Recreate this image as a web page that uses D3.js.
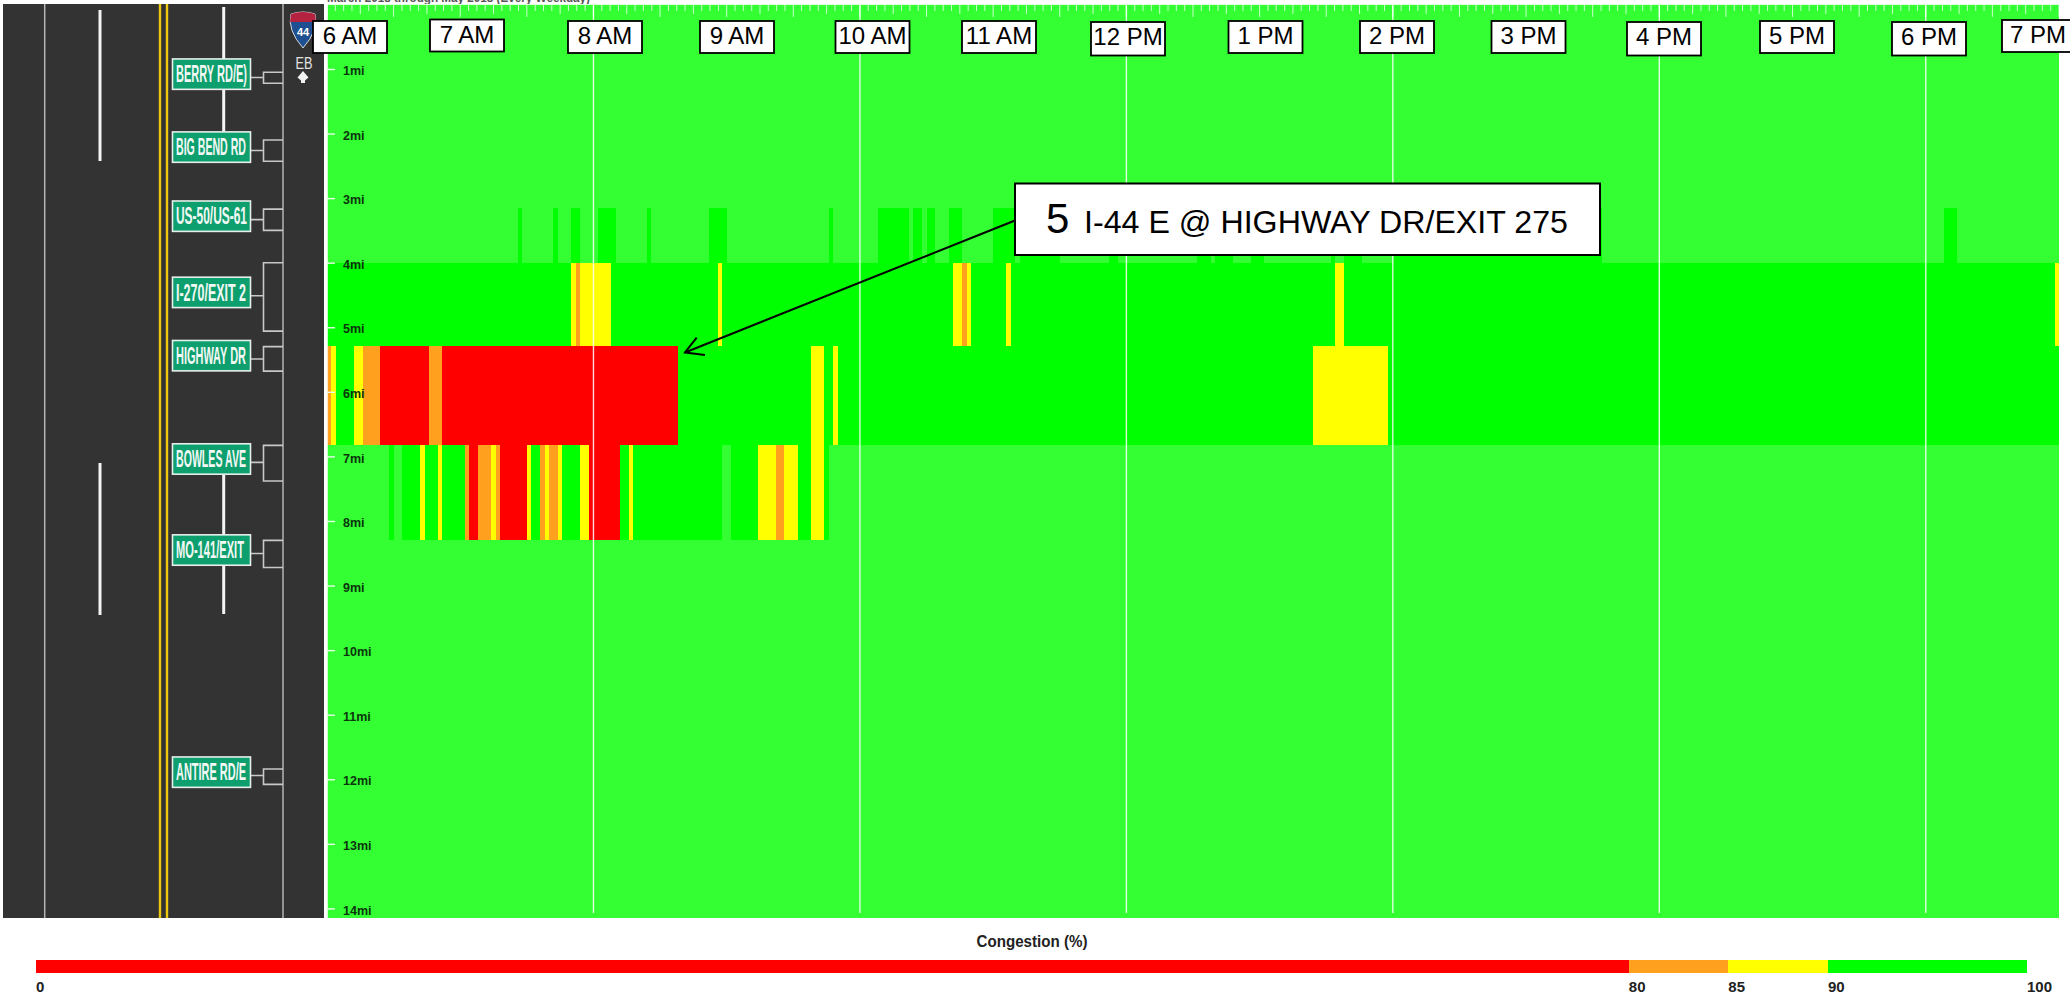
<!DOCTYPE html>
<html><head><meta charset="utf-8">
<script src="https://cdnjs.cloudflare.com/ajax/libs/d3/7.8.5/d3.min.js"></script>
<style>html,body{margin:0;padding:0;background:#fff;overflow:hidden}svg{display:block}text{font-family:"Liberation Sans",Arial,sans-serif}</style>
</head><body><svg id="c" width="2070" height="995"></svg>
<script>
// ---- data ----
const SLOTS = 390;                 // 2-minute slots, 6 AM to 7 PM
const segmentEdges = [0, 3.15, 4.0, 5.29, 6.82, 8.3, 14.15];  // miles
const segmentBase = [97, 97, 92, 92, 97, 97];                 // typical congestion %
const seg1Runs = [];
const seg2Runs = [[43,44,92],[51,52,92],[55,57,92],[61,65,92],[72,73,92],[86,90,92],[113,114,92],
  [124,131,92],[132,134,92],[135,137,92],[140,143,92],[150,155,92],[156,165,92],[176,178,92],
  [196,199,92],[200,204,92],[208,211,92],[226,227,92],[229,233,92],[240,287,92],[364,367,92]];
const seg3Runs = [[55,56,87],[56,57,82],[57,64,87],[88,89,87],[141,143,87],[143,144,82],[144,145,87],
  [153,154,87],[227,229,87],[389,390,87]];
const seg4Runs = [[0,1,82],[1,2,87],[6,8,87],[8,12,82],[12,23,70],[23,26,82],[26,79,70],
  [109,112,87],[114,115,87],[222,239,87]];
const seg5Runs = [[14,15,92],[17,21,92],[21,22,87],[22,25,92],[25,26,87],[26,31,92],[31,32,82],[32,34,70],
  [34,37,82],[37,38,87],[38,39,82],[39,45,70],[45,46,87],[46,48,92],[48,49,82],[49,50,87],[50,52,82],
  [52,53,87],[53,57,92],[57,59,87],[59,66,70],[66,68,92],[68,69,87],[69,89,92],[91,97,92],[97,101,87],
  [101,103,82],[103,106,87],[106,109,92],[109,112,87],[112,113,92]];
const seg6Runs = [];
const segmentRuns = [seg1Runs, seg2Runs, seg3Runs, seg4Runs, seg5Runs, seg6Runs];

const mileTicks = [1,2,3,4,5,6,7,8,9,10,11,12,13,14];
const hourLabels = ["6 AM","7 AM","8 AM","9 AM","10 AM","11 AM","12 PM","1 PM","2 PM","3 PM","4 PM","5 PM","6 PM","7 PM"];
const hourBoxCentre = [350,467,605,737,872.5,999,1128,1265.5,1397,1528.5,1664,1797,1929,2039];
const hourBoxTop = [21,19.5,21,21,21,21,22,21,21,21,22,21,22,20];
const gridSlots = [60,120,180,240,300,360];

const legendStops = [0,80,85,90,100];
const legendColours = ["#ff0000","#ffa01e","#ffff00","#00ff00"];
const exitNames = ["BERRY RD/E)","BIG BEND RD","US-50/US-61","I-270/EXIT 2","HIGHWAY DR","BOWLES AVE","MO-141/EXIT","ANTIRE RD/E"];
const exitSignMile = [1.08,2.21,3.28,4.46,5.44,7.04,8.45,11.89];
const exitRampFrom = [1.05,2.10,3.17,4.00,5.30,6.83,8.30,11.84];
const exitRampTo = [1.22,2.43,3.50,5.06,5.68,7.38,8.72,12.08];
const exitTextLen = [71,70,71,70,70,70,68,70];

// ---- scales ----
const svg = d3.select("#c");
const x = d3.scaleLinear().domain([0,SLOTS]).range([327,2059]);
const y = d3.scaleLinear().domain([0,14]).range([4.4,908.4]);
const colour = d3.scaleThreshold().domain([80,85,90,95]).range(["#ff0000","#ffa01e","#ffff00","#00ff00","#33ff33"]);
const lx = d3.scaleLinear().domain([0,100]).range([36,2027]);

// ---- top clipped caption ----
svg.append("text").attr("x",327).attr("y",2).attr("font-size",13).attr("font-weight","bold").attr("fill","#555")
  .attr("textLength",263).attr("lengthAdjust","spacingAndGlyphs").text("March 2018 through May 2018 (Every Weekday)");

// ---- road ----
const road = svg.append("g");
road.append("rect").attr("x",3).attr("y",4).attr("width",321).attr("height",914).attr("fill","#333");
[44.7,283].forEach(px=>road.append("line").attr("x1",px).attr("x2",px).attr("y1",4).attr("y2",918).attr("stroke","#b5b5b5").attr("stroke-width",1.5));
[160,167].forEach(px=>road.append("line").attr("x1",px).attr("x2",px).attr("y1",4).attr("y2",918).attr("stroke","#eec80f").attr("stroke-width",2.4));
[[100,10,161],[100,463,615],[223.7,7,135],[223.7,463,614]].forEach(d=>road.append("line").attr("x1",d[0]).attr("x2",d[0]).attr("y1",d[1]).attr("y2",d[2]).attr("stroke","#f4f4f4").attr("stroke-width",3));

exitNames.forEach((name,i)=>{
  const cy=y(exitSignMile[i]), g=road.append("g");
  const y0=y(exitRampFrom[i]), y1=y(exitRampTo[i]);
  g.append("path").attr("fill","none").attr("stroke","#c8c8c8").attr("stroke-width",1.6)
    .attr("d",`M283 ${y0}H263.5V${y1}H283M250 ${cy+3.4}H263.5`);
  g.append("rect").attr("x",172.5).attr("y",cy-15.2).attr("width",78).attr("height",30.4)
    .attr("fill","#0e9f6e").attr("stroke","#e6efe9").attr("stroke-width",1.6);
  g.append("text").attr("x",176).attr("y",cy+8.3).attr("font-size",23).attr("font-weight","bold").attr("fill","#f2f8f4")
    .attr("font-family","'Liberation Sans Narrow','Liberation Sans',sans-serif")
    .attr("textLength",exitTextLen[i]).attr("lengthAdjust","spacingAndGlyphs").text(name);
});

// shield and direction
const shield = svg.append("g");
shield.append("path").attr("fill","#1d4f91").attr("stroke","#d8d8d8").attr("stroke-width",1)
  .attr("d","M291 14Q303 10 315 14Q319 30 303 48Q287 30 291 14Z");
shield.append("path").attr("fill","#b5223f").attr("d","M291 14Q303 10 315 14L316 22H290Z");
shield.append("text").attr("x",303).attr("y",36).attr("text-anchor","middle").attr("font-size",11).attr("font-weight","bold").attr("fill","#fff").text("44");
svg.append("text").attr("x",304).attr("y",68.5).attr("text-anchor","middle").attr("font-size",17).attr("fill","#e2e2e2")
  .attr("textLength",17).attr("lengthAdjust","spacingAndGlyphs").text("EB");
svg.append("path").attr("fill","#f2f2f2").attr("d","M303 71L308.5 77.5L305 80.5V83H301V80.5L297.5 77.5Z");

// ---- heatmap ----
const heat = svg.append("g").attr("shape-rendering","crispEdges");
segmentRuns.forEach((runs,i)=>{
  const y0=y(segmentEdges[i]), y1=y(segmentEdges[i+1]);
  const rows=[[0,SLOTS,segmentBase[i]],...runs];
  heat.selectAll(null).data(rows).join("rect")
    .attr("x",d=>x(d[0])).attr("width",d=>x(d[1])-x(d[0]))
    .attr("y",y0).attr("height",y1-y0).attr("fill",d=>colour(d[2]));
});

// grid
svg.append("g").selectAll("line").data(gridSlots).join("line")
  .attr("x1",d=>x(d)).attr("x2",d=>x(d)).attr("y1",5).attr("y2",913)
  .attr("stroke","#fff").attr("stroke-opacity",.85).attr("stroke-width",1.4);

// top ticks (every 3.75 min, longer each 15 and 30 min)
const topTicks = d3.range(0,SLOTS+.01,1.875);
svg.append("g").selectAll("line").data(topTicks).join("line")
  .attr("x1",d=>x(d)).attr("x2",d=>x(d)).attr("y1",4)
  .attr("y2",(d,i)=> i%8===0?17 : i%4===0?14 : 11)
  .attr("stroke","#fff").attr("stroke-opacity",.75).attr("stroke-width",1);
svg.append("line").attr("x1",327).attr("x2",2059).attr("y1",4.5).attr("y2",4.5).attr("stroke","#dfffdf").attr("stroke-width",1);

// left white edge
svg.append("line").attr("x1",327).attr("x2",327).attr("y1",4).attr("y2",918).attr("stroke","#fff").attr("stroke-width",1.5);

// mile axis
const yAxis = d3.axisRight(y).tickValues(mileTicks).tickFormat(d=>d+"mi").tickSize(8).tickPadding(8);
const ga = svg.append("g").attr("transform","translate(327,0)").call(yAxis);
ga.select(".domain").remove();
ga.selectAll("line").attr("stroke","#e8ffe8").attr("stroke-width",1.4);
ga.selectAll("text").attr("font-size",12.5).attr("font-weight","bold").attr("fill","#0c350c").attr("dy","0.45em")
  .style("font-family","'Liberation Sans',sans-serif");

// hour label boxes
const hb = svg.append("g").selectAll("g").data(hourLabels).join("g");
hb.append("rect").attr("x",(d,i)=>hourBoxCentre[i]-37).attr("y",(d,i)=>hourBoxTop[i]).attr("width",74)
  .attr("height",(d,i)=>hourBoxTop[i]===22?33.5:32).attr("fill","#fff").attr("stroke","#000").attr("stroke-width",1.8);
hb.append("text").attr("x",(d,i)=>hourBoxCentre[i]-(i===13?1:0)).attr("y",(d,i)=>hourBoxTop[i]+23).attr("text-anchor","middle")
  .attr("font-size",24).attr("fill","#000").text(d=>d);

// callout
svg.append("line").attr("x1",1015).attr("y1",220.5).attr("x2",685).attr("y2",352.5).attr("stroke","#000").attr("stroke-width",2);
svg.append("path").attr("fill","none").attr("stroke","#000").attr("stroke-width",2).attr("d","M696.7 337.7L685 352.5L705 355");
svg.append("rect").attr("x",1015).attr("y",183.5).attr("width",585).attr("height",71.5).attr("fill","#fff").attr("stroke","#000").attr("stroke-width",2);
svg.append("text").attr("x",1046).attr("y",233).attr("font-size",42).attr("fill","#000").text("5");
svg.append("text").attr("x",1084).attr("y",233).attr("font-size",31.5).attr("fill","#000")
  .attr("textLength",484).attr("lengthAdjust","spacingAndGlyphs").text("I-44 E @ HIGHWAY DR/EXIT 275");

// legend
svg.append("text").attr("x",1032).attr("y",947).attr("text-anchor","middle").attr("font-size",16.5).attr("font-weight","bold").attr("fill","#222")
  .attr("textLength",111).attr("lengthAdjust","spacingAndGlyphs").text("Congestion (%)");
svg.append("g").attr("shape-rendering","crispEdges").selectAll("rect").data(legendColours).join("rect")
  .attr("x",(d,i)=>lx(legendStops[i])).attr("width",(d,i)=>lx(legendStops[i+1])-lx(legendStops[i]))
  .attr("y",960).attr("height",13).attr("fill",d=>d);
svg.append("g").selectAll("text").data(legendStops).join("text")
  .attr("x",d=>lx(d)).attr("y",992).attr("font-size",15).attr("font-weight","bold").attr("fill","#222").text(d=>d);
</script></body></html>
